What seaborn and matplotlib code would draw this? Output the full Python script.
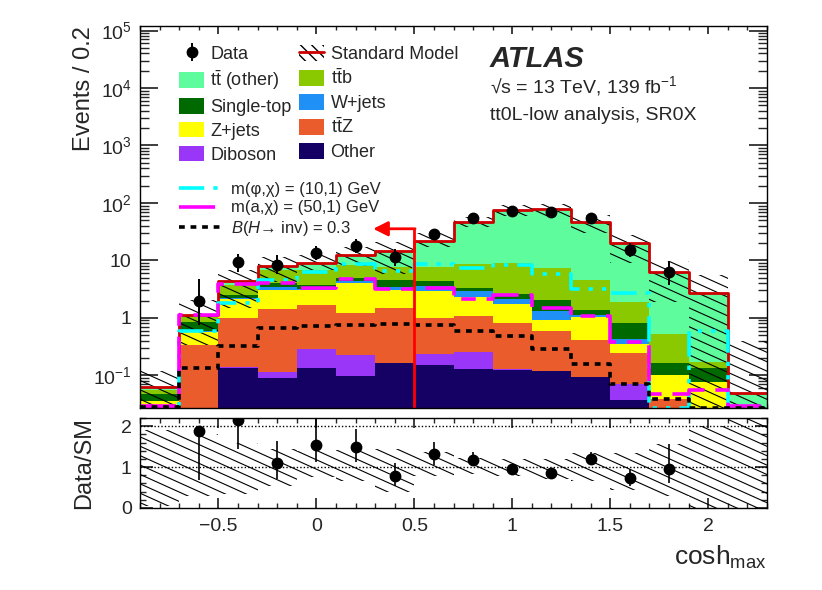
import numpy as np
import matplotlib
matplotlib.use("Agg")
import matplotlib.pyplot as plt
import seaborn as sns
from matplotlib.collections import LineCollection
from matplotlib.patches import Patch
from matplotlib.lines import Line2D
from matplotlib.ticker import FixedLocator, MultipleLocator, FuncFormatter, NullFormatter, LogLocator

# ---------------- data ----------------
bin_edges = [-0.9, -0.7, -0.5, -0.3, -0.1, 0.1, 0.3, 0.5, 0.7, 0.9, 1.1, 1.3, 1.5, 1.7, 1.9, 2.1, 2.3]
bin_centers = [-0.8, -0.6, -0.4, -0.2, 0.0, 0.2, 0.4, 0.6, 0.8, 1.0, 1.2, 1.4, 1.6, 1.8, 2.0, 2.2]

# background processes (bottom -> top of stack)
other     = [0, 0, 0.133, 0.089, 0.133, 0.097, 0.162, 0.151, 0.130, 0.126, 0.118, 0.092, 0.037, 0, 0, 0]
diboson   = [0, 0, 0.009, 0.024, 0.152, 0.130, 0.002, 0.081, 0.129, 0.002, 0.002, 0.002, 0.033, 0, 0, 0]
ttz       = [0.030, 0.34, 0.86, 1.32, 1.40, 1.01, 1.32, 0.77, 0.81, 0.69, 0.48, 0.32, 0.17, 0.039, 0.020, 0]
zjets     = [0.006, 0.23, 1.10, 1.64, 1.39, 2.76, 1.59, 1.94, 1.23, 0.90, 0.30, 0.61, 0.11, 0.061, 0.057, 0]
wjets     = [0, 0.01, 0.10, 0.43, 0.09, 0.47, 0.43, 0.66, 0.64, 0.39, 0.41, 0.12, 0.08, 0, 0, 0]
singletop = [0.011, 0.27, 0.30, 0.50, 0.60, 0.53, 0.97, 0.80, 0.43, 0.54, 0.73, 0.22, 0.385, 0.066, 0.055, 0]
ttb       = [0.009, 0.22, 1.30, 2.90, 3.14, 3.40, 3.33, 3.40, 5.28, 6.26, 5.36, 3.18, 1.085, 0.364, 0.040, 0]
ttother   = [0.007, 0.07, 0.50, 1.10, 2.10, 3.80, 6.50, 13.7, 37.4, 67.1, 72.6, 41.5, 18.3, 5.67, 2.58, 0.05]

# relative SM uncertainty (up / down)
sm_unc_up = [0.90, 0.80, 0.60, 0.45, 0.40, 0.42, 0.45, 0.38, 0.23, 0.20, 0.20, 0.35, 0.35, 0.56, 1.00, 7.0]
sm_unc_dn = [0.95, 0.70, 0.65, 0.47, 0.25, 0.35, 0.60, 0.22, 0.18, 0.22, 0.30, 0.35, 0.55, 0.70, 1.00, 1.00]

# signals
sig_phi = [0.02, 0.58, 1.85, 4.6, 6.4, 8.7, 6.6, 8.7, 7.4, 8.45, 5.9, 3.15, 2.75, 0.0275, 0.58, 0.02]
sig_a   = [0.029, 1.10, 3.9, 4.1, 3.37, 4.78, 3.16, 3.28, 2.1, 2.5, 1.49, 1.07, 0.38, 0.048, 0.055, 0.029]
sig_h   = [0.028, 0.133, 0.33, 0.67, 0.71, 0.755, 0.786, 0.74, 0.60, 0.49, 0.29, 0.16, 0.072, 0.039, 0.027, 0.027]

# data
data_x      = [-0.6, -0.4, -0.2, 0.0, 0.2, 0.4, 0.6, 0.8, 1.0, 1.2, 1.4, 1.6, 1.8]
data_y      = [2.0, 9.5, 8.4, 13.5, 17.9, 11.5, 28.5, 55, 73, 70.5, 55, 15.3, 6.2]
data_err_lo = [1.25, 3.1, 2.7, 3.5, 4.2, 3.5, 5.3, 7.4, 8.5, 8.4, 7.4, 3.9, 2.5]
data_err_hi = [2.7, 3.5, 4.0, 4.5, 5.3, 4.5, 6.3, 8.5, 9.5, 9.4, 8.5, 5.0, 3.6]

# ratio data / SM
ratio_y      = [1.89, 2.16, 1.10, 1.54, 1.48, 0.78, 1.31, 1.17, 0.965, 0.86, 1.20, 0.73, 0.965]
ratio_err_lo = [1.20, 0.71, 0.39, 0.42, 0.36, 0.235, 0.25, 0.11, 0.105, 0.11, 0.14, 0.185, 0.355]
ratio_err_hi = [0.10, 0.60, 0.54, 0.70, 0.45, 0.31, 0.31, 0.20, 0.095, 0.10, 0.17, 0.23, 0.595]

cut_value = 0.5
cut_arrow_end = 0.29
cut_arrow_y = 35.5

stack_names = ["Other", "Diboson", r"$\mathrm{t\bar{t}}$Z", "Z+jets", "W+jets", "Single-top",
               r"$\mathrm{t\bar{t}}$b", r"$\mathrm{t\bar{t}}$ (other)"]
stack_vals = [other, diboson, ttz, zjets, wjets, singletop, ttb, ttother]
stack_cols = ["#150063", "#9a36f7", "#ea5c2b", "#ffff00", "#1f90f5", "#006a00", "#8ac800", "#5efc9c"]

# ---------------- style ----------------
sns.set_theme(style="ticks")
plt.rcParams["font.family"] = ["Liberation Sans", "DejaVu Sans"]
plt.rcParams["mathtext.fontset"] = "custom"
plt.rcParams["mathtext.rm"] = "Liberation Sans"
plt.rcParams["mathtext.it"] = "Liberation Sans:italic"
plt.rcParams["mathtext.bf"] = "Liberation Sans:bold"
plt.rcParams["axes.linewidth"] = 1.0
plt.rcParams["axes.edgecolor"] = "black"

W, H = 822, 590
fig = plt.figure(figsize=(W / 100, H / 100), dpi=100)
ax = fig.add_axes([140 / W, 1 - 408 / H, 627 / W, 382 / H])
axr = fig.add_axes([140 / W, 1 - 508 / H, 627 / W, 90 / H])

edges = np.array(bin_edges)
ymin, ymax = 0.027, 1.2e5

# stacked histograms drawn as cumulative layers, largest first
cum = np.cumsum(np.array(stack_vals, dtype=float), axis=0)
for k in range(len(stack_vals) - 1, -1, -1):
    sns.histplot(x=bin_centers, weights=list(cum[k]), bins=bin_edges, element="step", fill=True,
                 color=stack_cols[k], alpha=1.0, linewidth=0, ax=ax, zorder=1)
total = cum[-1]

# SM total outline
sns.histplot(x=bin_centers, weights=list(total), bins=bin_edges, element="step", fill=False,
             color="#cc0000", linewidth=2.0, ax=ax, zorder=4)


def hatch_band(a, lo, hi, y0, y1, zorder):
    lo_s = np.clip(np.r_[lo, lo[-1]], y0, y1)
    hi_s = np.clip(np.r_[hi, hi[-1]], y0, y1)
    poly = a.fill_between(edges, lo_s, hi_s, step="post", facecolor="none",
                          edgecolor="none", linewidth=0)
    path = poly.get_paths()[0]
    wi, hi_in = fig.get_size_inches()
    slope, dy = 0.45, 0.094
    cs = np.arange(0, hi_in + slope * wi + dy, dy)
    segs = [[(0, c), (wi, c - slope * wi)] for c in cs]
    lc = LineCollection(segs, colors="black", linewidths=0.8,
                        transform=fig.dpi_scale_trans, zorder=zorder)
    a.add_collection(lc, autolim=False)
    lc.set_clip_path(path, a.transData)
    lc.set_clip_box(a.bbox)


up = np.array(sm_unc_up)
dn = np.array(sm_unc_dn)
hatch_band(ax, total * (1 - dn), total * (1 + up), ymin, ymax, 3)

# signals
sig_styles = [
    (sig_phi, "#00ffff", (0, (7, 2.5, 1.2, 2.5, 1.2, 2.5)), "m(\u03c6,\u03c7) = (10,1) GeV"),
    (sig_a, "#ff00ff", (0, (10, 3, 4, 3)), "m(a,\u03c7) = (50,1) GeV"),
    (sig_h, "black", (0, (1.6, 1.6)), "$B$($H$\u2192 inv) = 0.3"),
]
sig_handles = []
for vals, col, ls, lab in sig_styles:
    sns.histplot(x=bin_centers, weights=vals, bins=bin_edges, element="step", fill=False,
                 color=col, linewidth=2.6, linestyle=ls, ax=ax, zorder=5)
    sig_handles.append(Line2D([], [], color=col, lw=2.6, ls=ls))

# cut arrow
ax.vlines(cut_value, ymin, cut_arrow_y, color="#ff0000", lw=2, zorder=6)
ax.annotate("", xy=(cut_arrow_end, cut_arrow_y), xytext=(cut_value + 0.004, cut_arrow_y),
            arrowprops=dict(arrowstyle="-|>", color="#ff0000", lw=2, mutation_scale=22,
                            shrinkA=0, shrinkB=0), zorder=6)

# data
eb = ax.errorbar(data_x, data_y, yerr=[data_err_lo, data_err_hi], fmt="o", color="black",
                 ms=7.5, elinewidth=1.4, capsize=0, zorder=7)

ax.set_yscale("log")
ax.set_xlim(-0.9, 2.3)
ax.set_ylim(ymin, ymax)
ax.set_xlabel("")
ax.set_ylabel("Events / 0.2", fontsize=17, loc="top")
ax.yaxis.set_label_coords(-0.072, 1.0)

ax.yaxis.set_major_locator(FixedLocator([0.1, 1, 10, 100, 1e3, 1e4, 1e5]))
ylab_map = {0.1: r"$10^{-1}$", 1: "1", 10: "10", 100: r"$10^{2}$", 1e3: r"$10^{3}$",
            1e4: r"$10^{4}$", 1e5: r"$10^{5}$"}
ax.yaxis.set_major_formatter(FuncFormatter(
    lambda v, p: next((t for k, t in ylab_map.items() if abs(np.log10(v) - np.log10(k)) < 1e-6), "")))
ax.yaxis.set_minor_locator(LogLocator(base=10, subs=np.arange(2, 10), numticks=20))
ax.yaxis.set_minor_formatter(NullFormatter())
ax.xaxis.set_major_locator(MultipleLocator(0.5))
ax.xaxis.set_minor_locator(MultipleLocator(0.1))
ax.tick_params(axis="x", which="both", direction="in", top=True, bottom=True, labelbottom=False)
ax.tick_params(axis="x", which="major", length=6)
ax.tick_params(axis="x", which="minor", length=3)
ax.tick_params(axis="y", which="both", direction="in", left=True, right=True, labelsize=14, pad=6)
ax.tick_params(axis="y", which="major", length=13)
ax.tick_params(axis="y", which="minor", length=6.5)

# legends
proc_handles = {n: Patch(facecolor=c, edgecolor="none") for n, c in zip(stack_names, stack_cols)}
sm_handle = (Patch(facecolor="none", edgecolor="black", hatch="\\\\\\", linewidth=0),
             Line2D([], [], color="#cc0000", lw=2))
order = [
    (eb, "Data"),
    (proc_handles[r"$\mathrm{t\bar{t}}$ (other)"], r"$\mathrm{t\bar{t}}$ (other)"),
    (proc_handles["Single-top"], "Single-top"),
    (proc_handles["Z+jets"], "Z+jets"),
    (proc_handles["Diboson"], "Diboson"),
    (sm_handle, "Standard Model"),
    (proc_handles[r"$\mathrm{t\bar{t}}$b"], r"$\mathrm{t\bar{t}}$b"),
    (proc_handles["W+jets"], "W+jets"),
    (proc_handles[r"$\mathrm{t\bar{t}}$Z"], r"$\mathrm{t\bar{t}}$Z"),
    (proc_handles["Other"], "Other"),
]
leg1 = ax.legend([h for h, _ in order], [l for _, l in order], ncol=2, loc="upper left",
                 bbox_to_anchor=(0.062, 0.950), frameon=False, fontsize=13, borderpad=0,
                 borderaxespad=0, handlelength=1.4, handleheight=0.95, handletextpad=0.35,
                 columnspacing=0.4, labelspacing=0.32)
ax.add_artist(leg1)
leg2 = ax.legend(sig_handles, [s[3] for s in sig_styles], loc="upper left",
                 bbox_to_anchor=(0.062, 0.592), frameon=False, fontsize=12, borderpad=0,
                 borderaxespad=0, handlelength=2.6, handletextpad=0.5, labelspacing=0.21)

# ATLAS label
ax.text(0.558, 0.893, "ATLAS", transform=ax.transAxes, fontsize=21, fontweight="bold",
        fontstyle="italic", va="baseline", ha="left")
ax.text(0.558, 0.825, "\u221as = 13 TeV, 139 fb$^{-1}$", transform=ax.transAxes, fontsize=14,
        va="baseline", ha="left")
ax.text(0.558, 0.754, "tt0L-low analysis, SR0X", transform=ax.transAxes, fontsize=14,
        va="baseline", ha="left")

# ---------------- ratio panel ----------------
rymin, rymax = 0.0, 2.2
hatch_band(axr, 1 - dn, 1 + up, rymin - 0.1, rymax + 0.1, 2)
axr.axhline(1, color="black", ls=(0, (1, 1.5)), lw=1, zorder=3)
axr.axhline(2, color="black", ls=(0, (1, 1.5)), lw=1, zorder=3)
axr.errorbar(data_x, ratio_y, yerr=[ratio_err_lo, ratio_err_hi], fmt="o", color="black",
             ms=7.5, elinewidth=1.2, capsize=0, zorder=6)
axr.set_xlim(-0.9, 2.3)
axr.set_ylim(rymin, rymax)
axr.set_ylabel("Data/SM", fontsize=17)
axr.yaxis.set_label_coords(-0.072, 0.5)
axr.set_xlabel(r"cosh$_{\mathrm{max}}$", fontsize=19, loc="right")
axr.xaxis.set_label_coords(1.0, -0.40)
axr.xaxis.set_major_locator(MultipleLocator(0.5))
axr.xaxis.set_minor_locator(MultipleLocator(0.1))
axr.xaxis.set_major_formatter(FuncFormatter(lambda v, p: f"{v:g}".replace("-", "\u2212")))
axr.yaxis.set_major_locator(FixedLocator([0, 1, 2]))
axr.yaxis.set_minor_locator(MultipleLocator(0.2))
axr.tick_params(axis="x", which="both", direction="in", top=True, bottom=True, labelsize=14, pad=7)
axr.tick_params(axis="x", which="major", length=7)
axr.tick_params(axis="x", which="minor", length=3.5)
axr.tick_params(axis="y", which="both", direction="in", left=True, right=True, labelsize=14, pad=6)
axr.tick_params(axis="y", which="major", length=9)
axr.tick_params(axis="y", which="minor", length=4.5)

for a in (ax, axr):
    for s in a.spines.values():
        s.set_zorder(10)
        s.set_linewidth(1.0)

fig.savefig("out.png", dpi=100)
